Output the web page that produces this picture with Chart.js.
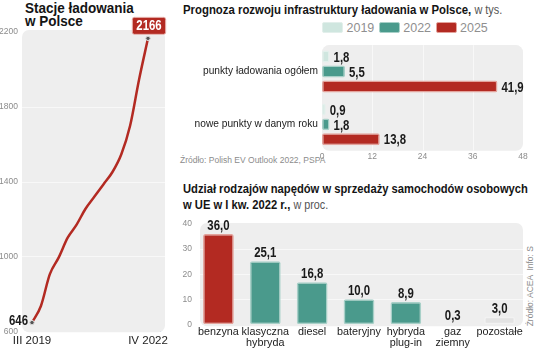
<!DOCTYPE html>
<html>
<head>
<meta charset="utf-8">
<script src="https://cdn.jsdelivr.net/npm/chart.js@4.4.0/dist/chart.umd.min.js"></script>
<style>
body { margin: 0; width: 536px; height: 351px; background: #fff; position: relative; overflow: hidden; font-family: 'Liberation Sans', Arial, sans-serif; }
.abs { position: absolute; }
.ttl { font-family: 'Liberation Sans', sans-serif; font-weight: bold; color: #141414; white-space: nowrap; transform-origin: 0 0; }
.ttl span { font-weight: normal; color: #555; }
.src { font-size: 8.5px; color: #8c8c8c; white-space: nowrap; }
.leg { font-size: 12.5px; color: #8f8f8f; }
.sw { display: inline-block; width: 19px; height: 9px; border-radius: 2px; vertical-align: -1px; }
canvas { position: absolute; }
</style>
</head>
<body>

<div class="abs ttl" style="left:25px;top:1px;font-size:15px;line-height:13px;transform:scaleX(0.9);">Stacje ładowania<br>w Polsce</div>
<div class="abs ttl" style="left:183px;top:2px;font-size:13px;transform:scaleX(0.875);">Prognoza rozwoju infrastruktury ładowania w Polsce, <span style="font-size:12.5px;">w tys.</span></div>
<div class="abs leg" style="left:322px;top:21px;white-space:nowrap;">
  <span class="sw" style="background:#cfe6df;border:1px solid #e2efeb;"></span> 2019
  <span class="sw" style="background:#4a9a8c;border:1px solid #a8d0c8;margin-left:1px;"></span> 2022
  <span class="sw" style="background:#b32a22;border:1px solid #e3a39c;margin-left:1px;"></span> 2025
</div>
<div class="abs src" style="left:180px;top:155px;">Źródło: Polish EV Outlook 2022, PSPA</div>
<div class="abs ttl" style="left:183px;top:181px;font-size:13.5px;line-height:16px;transform:scaleX(0.83);">Udział rodzajów napędów w sprzedaży samochodów osobowych<br>w UE w I kw. 2022 r., <span style="font-size:13px;">w proc.</span></div>
<div class="abs src" style="left:525px;top:246px;writing-mode:vertical-rl;transform:rotate(180deg);">Źródło: ACEA &nbsp;Info: S</div>
<div class="abs src" style="left:110px;top:324px;">Źródło: PSPA</div>

<canvas id="lineChart" style="left:0;top:0;" width="175" height="351"></canvas>
<canvas id="forecastChart" style="left:180px;top:35px;" width="356" height="128"></canvas>
<canvas id="driveChart" style="left:180px;top:212px;" width="356" height="139"></canvas>

<script>
// stacje ladowania (PSPA)
var stationLabels = ['III 2019', 'IV 2019', 'I 2020', 'II 2020', 'III 2020', 'IV 2020', 'I 2021', 'II 2021', 'III 2021', 'IV 2021', 'I 2022', 'II 2022', 'III 2022', 'IV 2022'];
var stationValues = [646, 735, 905, 995, 1100, 1170, 1255, 1320, 1385, 1450, 1545, 1700, 1946, 2166];
var stationTicks = [600, 1000, 1400, 1800, 2200];

// prognoza, w tys.
var forecastCategories = ['punkty ładowania ogółem', 'nowe punkty w danym roku'];
var forecastYears = ['2019', '2022', '2025'];
var forecast2019 = [1.8, 0.9];
var forecast2022 = [5.5, 1.8];
var forecast2025 = [41.9, 13.8];
var forecastTicks = [0, 12, 24, 36, 48];

// naped, w proc.
var driveCategories = ['benzyna', ['klasyczna', 'hybryda'], 'diesel', 'bateryjny', ['hybryda', 'plug-in'], ['gaz', 'ziemny'], 'pozostałe'];
var driveShares = [36.0, 25.1, 16.8, 10.0, 8.9, 0.3, 3.0];
var driveTicks = [0, 10, 20, 30, 40];

var RED = '#b32a22', TEAL = '#4a9a8c', MINT = '#cfe6df', GREY = '#e3e3e3';
var tickFont = { family: 'Liberation Sans', size: 8.5 };
var valueFont = "bold 15px 'Liberation Sans', sans-serif";
var NARROW = 0.76;

function pl(v) {
    return v.toFixed(1).replace('.', ',');
}

// bold condensed-looking text: squeeze horizontally
function squeezeText(ctx, txt, x, y) {
    ctx.save();
    ctx.translate(x, y);
    ctx.scale(NARROW, 1);
    ctx.fillText(txt, 0, 0);
    ctx.restore();
}

// rounded grey panel behind plot + light grid lines
function panel(pad, axis, ticks) {
    return {
        id: 'panel',
        beforeDraw: function (chart) {
            var a = chart.chartArea, ctx = chart.ctx, s = chart.scales[axis];
            ctx.save();
            ctx.fillStyle = '#eeeeee';
            ctx.beginPath();
            ctx.roundRect(a.left - pad[0], a.top - pad[1], a.width + pad[0] + pad[2], a.height + pad[1] + pad[3], 7);
            ctx.fill();
            ctx.strokeStyle = '#f8f8f8';
            ctx.lineWidth = 1;
            ticks.forEach(function (t, i) {
                if (i === 0 || i === ticks.length - 1) return;
                var p = Math.round(s.getPixelForValue(t)) + 0.5;
                ctx.beginPath();
                if (s.isHorizontal()) {
                    ctx.moveTo(p, a.top - pad[1]); ctx.lineTo(p, a.bottom + pad[3]);
                } else {
                    ctx.moveTo(a.left - pad[0], p); ctx.lineTo(a.right + pad[2], p);
                }
                ctx.stroke();
            });
            ctx.restore();
        }
    };
}

// --- line chart ---
var lineEnds = {
    id: 'lineEnds',
    afterDatasetsDraw: function (chart) {
        var ctx = chart.ctx, pts = chart.getDatasetMeta(0).data;
        var first = pts[0], last = pts[pts.length - 1];
        ctx.save();
        ctx.font = valueFont;
        ctx.fillStyle = '#1a1a1a';
        ctx.textAlign = 'right';
        ctx.textBaseline = 'middle';
        squeezeText(ctx, String(stationValues[0]), first.x - 4, first.y - 2);

        var txt = String(stationValues[stationValues.length - 1]);
        var w = ctx.measureText(txt).width * NARROW + 8;
        ctx.fillStyle = RED;
        ctx.strokeStyle = '#e8b5b0';
        ctx.lineWidth = 1;
        ctx.beginPath();
        ctx.roundRect(last.x - w / 2 + 1, last.y - 21, w, 17, 2);
        ctx.fill();
        ctx.stroke();
        ctx.fillStyle = '#fff';
        ctx.textAlign = 'center';
        squeezeText(ctx, txt, last.x + 1, last.y - 12);
        ctx.restore();
    }
};

new Chart(document.getElementById('lineChart'), {
    type: 'line',
    data: {
        labels: stationLabels,
        datasets: [{
            data: stationValues,
            borderColor: RED,
            borderWidth: 2.5,
            cubicInterpolationMode: 'monotone',
            pointRadius: stationValues.map(function (v, i) { return i === 0 || i === stationValues.length - 1 ? 2.2 : 0; }),
            pointBackgroundColor: '#555',
            pointBorderColor: '#ddd',
            pointBorderWidth: 1,
            clip: false
        }]
    },
    options: {
        responsive: false,
        animation: false,
        layout: { padding: { top: 32, right: 27, left: 0, bottom: 0 } },
        scales: {
            y: {
                min: 600, max: 2200,
                afterFit: function (s) { s.width = 32; },
                afterBuildTicks: function (s) { s.ticks = stationTicks.map(function (v) { return { value: v }; }); },
                ticks: { font: tickFont, color: '#8c8c8c', padding: 14, callback: function (v) { return String(v); } },
                grid: { display: false, drawTicks: false },
                border: { display: false }
            },
            x: {
                offset: false,
                grid: { display: false, drawTicks: false },
                border: { display: false },
                ticks: {
                    autoSkip: false, maxRotation: 0, padding: 3,
                    font: { family: 'Liberation Sans', size: 11.5 }, color: '#222',
                    callback: function (v, i) { return i === 0 || i === stationLabels.length - 1 ? stationLabels[i] : ''; }
                }
            }
        },
        plugins: { legend: { display: false }, tooltip: { enabled: false } }
    },
    plugins: [panel([10, 2, 17, 1], 'y', stationTicks), lineEnds]
});

// --- forecast horizontal bars ---
var barValues = {
    id: 'barValues',
    afterDatasetsDraw: function (chart) {
        var ctx = chart.ctx, horizontal = chart.options.indexAxis === 'y';
        ctx.save();
        ctx.font = valueFont;
        ctx.fillStyle = '#1a1a1a';
        chart.data.datasets.forEach(function (ds, di) {
            chart.getDatasetMeta(di).data.forEach(function (el, i) {
                var txt = pl(ds.data[i]);
                if (horizontal) {
                    ctx.textAlign = 'left'; ctx.textBaseline = 'middle';
                    squeezeText(ctx, txt, el.x + 4, el.y + 1);
                } else {
                    ctx.textAlign = 'center'; ctx.textBaseline = 'alphabetic';
                    squeezeText(ctx, txt, el.x, el.y - 4);
                }
            });
        });
        ctx.restore();
    }
};

function ds(label, data, fill, edge) {
    return { label: label, data: data, backgroundColor: fill, borderColor: edge, borderWidth: 1.5, borderRadius: 2, borderSkipped: false, categoryPercentage: 0.85, barPercentage: 0.8 };
}

new Chart(document.getElementById('forecastChart'), {
    type: 'bar',
    data: {
        labels: forecastCategories,
        datasets: [
            ds(forecastYears[0], forecast2019, MINT, '#e3f0ec'),
            ds(forecastYears[1], forecast2022, TEAL, '#a8d0c8'),
            ds(forecastYears[2], forecast2025, RED, '#e3a39c')
        ]
    },
    options: {
        indexAxis: 'y',
        responsive: false,
        animation: false,
        layout: { padding: { top: 2.5, right: 13, left: 0, bottom: 0 } },
        scales: {
            x: {
                min: 0, max: 48,
                afterBuildTicks: function (s) { s.ticks = forecastTicks.map(function (v) { return { value: v }; }); },
                ticks: { font: tickFont, color: '#8c8c8c', padding: 1 },
                grid: { display: false, drawTicks: false },
                border: { display: false }
            },
            y: {
                afterFit: function (s) { s.width = 142; },
                ticks: { font: { family: 'Liberation Sans', size: 10.2 }, color: '#222', padding: 4 },
                grid: { display: false, drawTicks: false },
                border: { display: false }
            }
        },
        plugins: { legend: { display: false }, tooltip: { enabled: false } }
    },
    plugins: [panel([0, 0, 0, 0], 'x', forecastTicks), barValues]
});

// --- drive type shares ---
new Chart(document.getElementById('driveChart'), {
    type: 'bar',
    data: {
        labels: driveCategories,
        datasets: [{
            data: driveShares,
            backgroundColor: [RED, TEAL, TEAL, TEAL, TEAL, GREY, GREY],
            borderColor: ['#e3a39c', '#a8d0c8', '#a8d0c8', '#a8d0c8', '#a8d0c8', '#f2f2f2', '#f2f2f2'],
            borderWidth: 1.5,
            borderRadius: 2,
            borderSkipped: false,
            categoryPercentage: 0.9,
            barPercentage: 0.73
        }]
    },
    options: {
        responsive: false,
        animation: false,
        layout: { padding: { top: 12, right: 13, left: 0, bottom: 0 } },
        scales: {
            y: {
                min: 0, max: 40,
                afterFit: function (s) { s.width = 15; },
                afterBuildTicks: function (s) { s.ticks = driveTicks.map(function (v) { return { value: v }; }); },
                ticks: { font: tickFont, color: '#8c8c8c', padding: 3 },
                grid: { display: false, drawTicks: false },
                border: { display: false }
            },
            x: {
                grid: { display: false, drawTicks: false },
                border: { display: false },
                ticks: { autoSkip: false, maxRotation: 0, padding: 2, font: { family: 'Liberation Sans', size: 10.8, lineHeight: 1.05 }, color: '#222' }
            }
        },
        plugins: { legend: { display: false }, tooltip: { enabled: false } }
    },
    plugins: [panel([-5, 1, 0, 2], 'y', driveTicks), barValues]
});
</script>
</body>
</html>
